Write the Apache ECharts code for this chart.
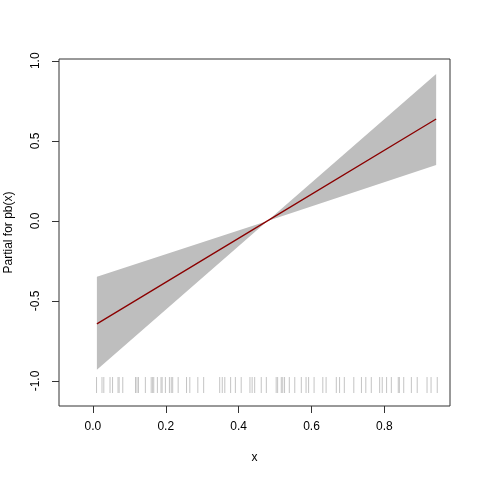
<!DOCTYPE html>
<html>
<head>
<meta charset="utf-8">
<script src="https://cdn.jsdelivr.net/npm/echarts@6/dist/echarts.min.js"></script>
<style>
  html, body { margin: 0; padding: 0; background: #fff; }
  #main { width: 480px; height: 480px; }
</style>
</head>
<body>
<div id="main"></div>
<script>
// fitted partial effect and its band
var xGrid = [0.011, 0.479, 0.942];
var fit   = [-0.643, 0.000, 0.636];
var upper = [-0.349, 0.000, 0.917];
var lower = [-0.930, 0.000, 0.349];

// rug marks along the bottom
var rugX = [0.010, 0.025, 0.030, 0.047, 0.054, 0.069, 0.072, 0.082, 0.117, 0.121,
            0.125, 0.144, 0.160, 0.164, 0.167, 0.177, 0.187, 0.190, 0.199, 0.210,
            0.215, 0.219, 0.234, 0.257, 0.266, 0.288, 0.304, 0.348, 0.355, 0.362,
            0.378, 0.391, 0.407, 0.431, 0.437, 0.444, 0.462, 0.476, 0.503, 0.507,
            0.517, 0.521, 0.526, 0.539, 0.554, 0.572, 0.585, 0.592, 0.607, 0.631,
            0.640, 0.668, 0.677, 0.690, 0.716, 0.737, 0.749, 0.764, 0.787, 0.794,
            0.806, 0.819, 0.838, 0.841, 0.853, 0.874, 0.890, 0.917, 0.928, 0.945];

var xTicks = [0, 0.2, 0.4, 0.6, 0.8];
var yTicks = [-1, -0.5, 0, 0.5, 1];

var font = 'Liberation Sans, Arial, sans-serif';

var myChart = echarts.init(document.getElementById('main'));
var option = {
    animation: false,
    backgroundColor: '#fff',
    grid: {
        left: 59, right: 30, top: 59, bottom: 74,
        show: true,
        borderColor: '#333',
        borderWidth: 1,
        backgroundColor: 'transparent',
        outerBoundsMode: 'none'
    },
    xAxis: {
        type: 'value',
        min: -0.093,
        max: 0.98,
        name: 'x',
        nameLocation: 'middle',
        nameGap: 46,
        nameTextStyle: { color: '#000', fontSize: 12, fontFamily: font },
        axisLine: { show: false, onZero: false },
        splitLine: { show: false },
        axisTick: {
            show: true, length: 7, inside: false,
            customValues: xTicks,
            lineStyle: { color: '#333', width: 1 }
        },
        axisLabel: {
            customValues: xTicks,
            margin: 15,
            color: '#000', fontSize: 12, fontFamily: font,
            formatter: function (v) { return v.toFixed(1); }
        }
    },
    yAxis: {
        type: 'value',
        min: -1.156,
        max: 1.011,
        name: 'Partial for pb(x)',
        nameLocation: 'middle',
        nameGap: 44,
        nameRotate: 90,
        nameTextStyle: { color: '#000', fontSize: 12, fontFamily: font },
        axisLine: { show: false, onZero: false },
        splitLine: { show: false },
        axisTick: {
            show: true, length: 7, inside: false,
            customValues: yTicks,
            lineStyle: { color: '#333', width: 1 }
        },
        axisLabel: {
            customValues: yTicks,
            rotate: 90,
            margin: 17,
            color: '#000', fontSize: 12, fontFamily: font,
            formatter: function (v) { return v.toFixed(1); }
        }
    },
    series: [
        {
            // shaded band
            type: 'custom',
            data: xGrid.map(function (x, i) { return [x, upper[i], lower[i]]; }),
            encode: { x: 0, y: [1, 2] },
            renderItem: function (params, api) {
                if (params.dataIndex !== 0) return null;
                var pts = [];
                for (var i = 0; i < xGrid.length; i++) pts.push(api.coord([xGrid[i], upper[i]]));
                for (var j = xGrid.length - 1; j >= 0; j--) pts.push(api.coord([xGrid[j], lower[j]]));
                return {
                    type: 'polygon',
                    shape: { points: pts },
                    style: { fill: '#bebebe', stroke: null }
                };
            },
            silent: true,
            z: 1
        },
        {
            // rug
            type: 'custom',
            data: rugX.map(function (x) { return [x]; }),
            encode: { x: 0 },
            renderItem: function (params, api) {
                var x = api.value(0);
                var p1 = api.coord([x, -0.975]);
                var p2 = api.coord([x, -1.075]);
                return {
                    type: 'line',
                    shape: { x1: p1[0], y1: p1[1], x2: p2[0], y2: p2[1] },
                    style: { stroke: '#c4c4c4', lineWidth: 1 }
                };
            },
            silent: true,
            z: 2
        },
        {
            type: 'line',
            data: xGrid.map(function (x, i) { return [x, fit[i]]; }),
            symbol: 'none',
            lineStyle: { color: '#8b0000', width: 1.3 },
            silent: true,
            z: 3
        }
    ]
};
myChart.setOption(option);
</script>
</body>
</html>
